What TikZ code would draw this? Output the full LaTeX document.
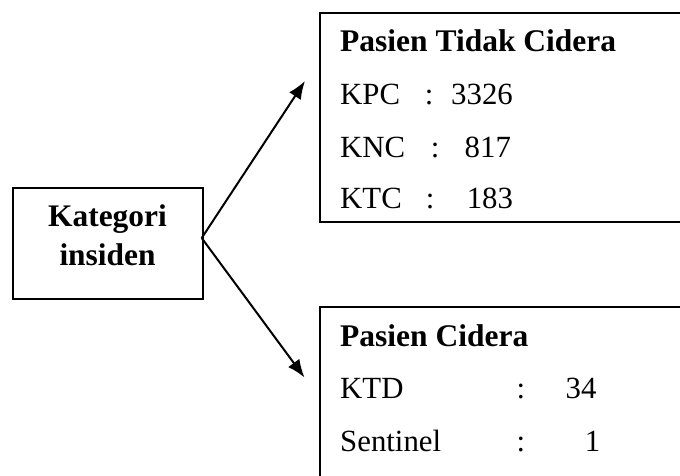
\documentclass[tikz,border=0pt]{standalone}
\usepackage{fontspec}
\setmainfont{Liberation Serif}
\usetikzlibrary{arrows.meta}
\tikzset{
  boxline/.style={draw=black, line width=2pt, rectangle, inner sep=0pt},
  txt/.style={anchor=base west, inner sep=0pt, font=\fontsize{30.8}{37}\selectfont},
  btxt/.style={anchor=base west, inner sep=0pt, font=\fontsize{31.5}{38}\selectfont\bfseries},
  ctxt/.style={anchor=base, inner sep=0pt, font=\fontsize{31.4}{38}\selectfont\bfseries},
  arr/.style={line width=2pt, -{Latex[length=18pt,width=14pt]}}
}
\begin{document}
\begin{tikzpicture}[x=1pt,y=-1pt]
\useasboundingbox (0,0) rectangle (680,476);
\clip (0,0) rectangle (680,476);
% left box
\node[boxline, minimum width=190pt, minimum height=111pt, anchor=north west] (cat) at (11.7,187) {};
\node[ctxt] (catt) at (107.5,226.7) {Kategori};
\node[ctxt] (cati) at (107.5,265) {insiden};
% top box
\node[boxline, minimum width=420pt, minimum height=209pt, anchor=north west] (top) at (319.3,12) {};
\node[btxt] (t0) at (340,51.7) {Pasien Tidak Cidera};
\node[txt] (t1a) at (340,105) {KPC};
\node[txt] (t1b) at (424.7,105) {:};
\node[txt] (t1c) at (451,105) {3326};
\node[txt] (t2a) at (340,157.3) {KNC};
\node[txt] (t2b) at (430.7,157.3) {:};
\node[txt] (t2c) at (464.5,157.3) {817};
\node[txt] (t3a) at (340,208) {KTC};
\node[txt] (t3b) at (425.7,208) {:};
\node[txt] (t3c) at (466.6,208) {183};
% bottom box
\node[boxline, minimum width=420pt, minimum height=220pt, anchor=north west] (bot) at (319.3,306) {};
\node[btxt] (b0) at (340,346.7) {Pasien Cidera};
\node[txt] (b1a) at (340,398.3) {KTD};
\node[txt] (b1b) at (516.4,398.3) {:};
\node[txt] (b1c) at (565.5,398.3) {34};
\node[txt] (b2a) at (340,451) {Sentinel};
\node[txt] (b2b) at (516.4,451) {:};
\node[txt] (b2c) at (584.6,451) {1};
% arrows
\coordinate (s) at (201.7,238);
\coordinate (e1) at (305,81);
\coordinate (e2) at (304.5,377.5);
\draw[arr] (s) -- (e1);
\draw[arr] (s) -- (e2);
\end{tikzpicture}
\end{document}
